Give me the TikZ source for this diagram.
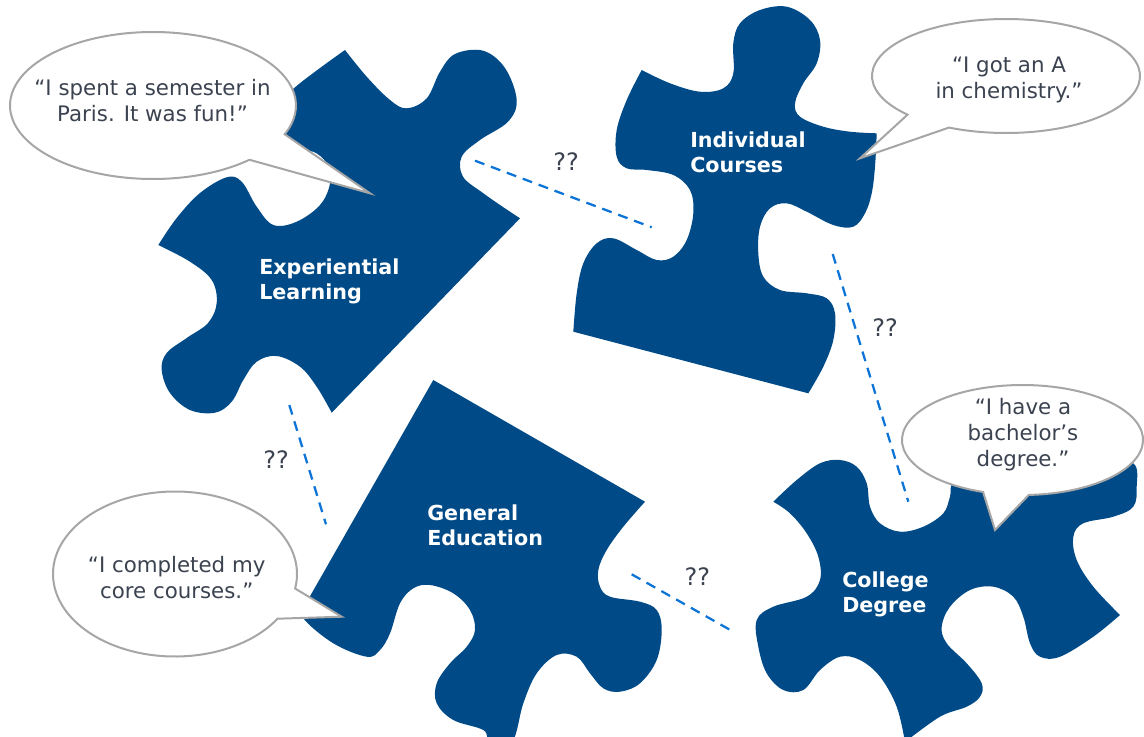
\documentclass[tikz,border=0pt]{standalone}
\usepackage{fontspec}
\setmainfont{DejaVu Sans}
\definecolor{piececol}{RGB}{0,75,135}
\definecolor{linkcol}{RGB}{12,116,214}
\definecolor{bubline}{RGB}{166,166,166}
\definecolor{bubtextcol}{RGB}{60,67,80}
\tikzset{
  piece/.style={fill=piececol},
  link/.style={draw=linkcol, line width=1.7pt, dash pattern=on 7.5pt off 5.25pt},
  bubble/.style={draw=bubline, fill=white, line width=1.5pt, line join=miter},
  bubtext/.style={text=bubtextcol, align=center, inner sep=0pt,
    font=\fontsize{16pt}{19.5pt}\selectfont},
  lbl/.style={text=white, align=left, inner sep=0pt, anchor=west,
    font=\fontsize{15.5pt}{18.75pt}\selectfont\bfseries},
  qq/.style={text=bubtextcol, inner sep=0pt, font=\fontsize{18pt}{20pt}\selectfont},
  edge/.style={smooth, tension=0.6}
}
\begin{document}
\begin{tikzpicture}[x=0.75pt,y=-0.75pt]
\useasboundingbox (0,0) rectangle (1144,736);

% ---------- puzzle pieces ----------
% Experiential Learning
\fill[piece] (345,50)
 -- plot[edge] coordinates {(345,50) (366.7,76.7) (390,100) (406.7,108.3) (426.7,98.3) (440,71.7) (455,54) (483,50.7) (505,68) (516.7,100) (508,121.7) (480,140) (461.7,156.7) (463,176.7) (483,193) (503,207) (520,218.3)}
 -- (331.7,412.7)
 -- plot[edge] coordinates {(331.7,412.7) (316.7,386.7) (300,366.7) (276.7,356) (256.7,361.7) (243.3,380) (231.7,401.7) (215,412.7) (190,410) (170,393) (161.7,370) (166.7,353) (186.7,338) (208,323) (216.7,303) (211.7,280) (190,261.7) (158.3,245)}
 -- plot[edge] coordinates {(158.3,245) (176.7,218) (200,193) (226.7,177.3) (241.7,181.7) (256.7,206.7) (273.3,225) (296.7,221.7) (320,205) (330,183.3) (326.7,163.3) (313.3,151.7) (300,152) (285,140) (283,110) (292,90) (345,50)}
 -- cycle;

% Individual Courses
\fill[piece] (641.7,70)
 -- plot[edge] coordinates {(641.7,70) (670,83.3) (700,91.7) (723.3,88.3) (733.3,73.3) (733.3,43.3) (740,23.3) (760,10) (786.7,6.7) (810,20) (820,40) (816.7,63.3) (803.3,83.3) (795,103.3) (800,116.7) (823.3,126.7) (850,131.7) (876.7,133.3)}
 -- plot[edge] coordinates {(876.7,133.3) (875,166.7) (871.7,193.3) (865,213.3) (853.3,226.7) (833.3,225) (806.7,211.7) (786.7,203.3) (770,208.3) (760,226.7) (758.3,253.3) (763.3,276.7) (780,290) (806.7,293.3) (826.7,298.3) (835,313.3) (833.3,340) (823.3,366.7) (808.3,393.3)}
 -- (573.3,331.7)
 -- plot[edge] coordinates {(573.3,331.7) (576.7,293.3) (583.3,263.3) (596.7,243.3) (613.3,238.3) (636.7,250) (656.7,260) (673.3,256.7) (686.7,240) (693.3,213.3) (690,190) (673.3,175) (646.7,170) (626.7,168.3) (616.7,156.7) (616.7,130) (626.7,100) (641.7,70)}
 -- cycle;

% General Education
\fill[piece] (433.3,380) -- (645,501.7)
 -- plot[edge] coordinates {(645,501.7) (623.3,526.7) (606.7,550) (598.3,570) (600,586.7) (610,596.7) (640,601.7) (656.7,610) (661.7,630) (656.7,660) (640,683.3) (620,691.7) (603.3,688.3) (590,673.3) (576.7,656.7) (556.7,655) (536.7,673.3) (523.3,703.3) (512,742) (490,742) (483.3,730) (453.3,720) (436.7,703.3) (436.7,683.3) (450,663.3) (466.7,646.7) (475,630) (470,610) (453.3,593.3) (430,585) (413.3,588.3) (400,603.3) (390,633.3) (380,650) (366.7,656.7) (333.3,643.3) (303.3,618.3) (305,605)}
 -- cycle;

% College Degree
\fill[piece] (773.3,501.7)
 -- plot[edge] coordinates {(773.3,501.7) (796.7,480) (820,463.3) (840,460) (856.7,466.7) (866.7,483.3) (870,506.7) (880,523.3) (900,531.7) (923.3,526.7) (943.3,513.3) (950,496.7) (955,480) (990,470) (1100,460) (1133.3,463.3) (1136.7,486.7) (1133.3,506.7) (1113.3,516.7) (1083.3,523.3) (1073.3,536.7) (1076.7,560) (1093.3,586.7) (1120,615)}
 -- plot[edge] coordinates {(1120,615) (1093.3,636.7) (1060,656.7) (1040,656.7) (1030,643.3) (1023.3,616.7) (1013.3,596.7) (993.3,586.7) (970,590) (950,606.7) (941.7,626.7) (946.7,643.3) (966.7,663.3) (981.7,683.3) (980,696.7) (966.7,706.7) (940,716.7) (905,742)}
 -- plot[edge] coordinates {(905,742) (896.7,706.7) (880,676.7) (860,660) (840,656.7) (820,670) (803.3,690) (783.3,690) (766.7,673.3) (758.3,646.7) (756.7,620) (773.3,606.7) (806.7,596.7) (820,580) (818.3,556.7) (806.7,533.3) (790,513.3) (773.3,501.7)}
 -- cycle;

% ---------- dashed links ----------
\coordinate (l1a) at (475,160.7);   \coordinate (l1b) at (651.7,227.3);
\coordinate (l2a) at (832.7,254);   \coordinate (l2b) at (908.3,501.7);
\coordinate (l3a) at (289.3,405);   \coordinate (l3b) at (326,524.3);
\coordinate (l4a) at (631.7,574.3); \coordinate (l4b) at (733.3,631.7);
\draw[link] (l1a) -- (l1b);
\draw[link] (l2a) -- (l2b);
\draw[link] (l3a) -- (l3b);
\draw[link] (l4a) -- (l4b);

\node[qq] (q1) at (566,161.7) {??};
\node[qq] (q2) at (885,327.3) {??};
\node[qq] (q3) at (276,460) {??};
\node[qq] (q4) at (697.3,576.7) {??};

% ---------- speech bubbles ----------
\draw[bubble] (153,105.5) ++(47.6:143 and 73.5)
  arc[start angle=47.6, end angle=383, x radius=143, y radius=73.5]
  -- (370,193.3) -- cycle;
\draw[bubble] (1006,76) ++(137.3:134 and 57)
  arc[start angle=137.3, end angle=475.2, x radius=134, y radius=57]
  -- (860,158.3) -- cycle;
\draw[bubble] (1022.5,440) ++(109.1:120.5 and 55)
  arc[start angle=109.1, end angle=447, x radius=120.5, y radius=55]
  -- (995,530) -- cycle;
\draw[bubble] (175,574) ++(32.8:122 and 82.5)
  arc[start angle=32.8, end angle=370.1, x radius=122, y radius=82.5]
  -- (341.7,616.7) -- cycle;

\node[bubtext] (t1) at (152.5,100.5) {“I spent a semester in\\Paris. It was fun!”};
\node[bubtext] (t2) at (1009,79.7) {“I got an A\\in chemistry.”};
\node[bubtext] (t3) at (1023,435) {“I have a\\bachelor’s\\degree.”};
\node[bubtext] (t4) at (176.7,578) {“I completed my\\core courses.”};

% ---------- piece labels ----------
\node[lbl] (el) at (259,281.6) {Experiential\\Learning};
\node[lbl] (ic) at (690,152.6) {Individual\\Courses};
\node[lbl] (ge) at (427,525) {General\\Education};
\node[lbl] (cd) at (842,594) {College\\Degree};
\end{tikzpicture}
\end{document}
